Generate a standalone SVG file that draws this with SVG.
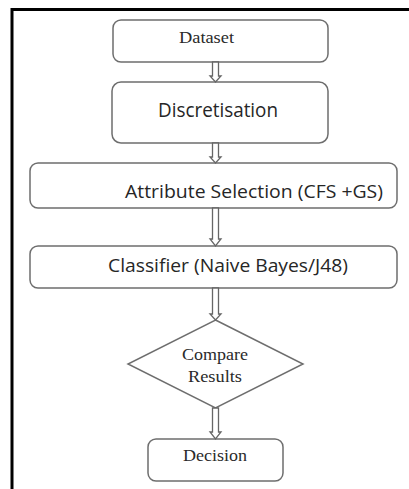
<svg xmlns="http://www.w3.org/2000/svg" width="409" height="489" viewBox="0 0 409 489">
<style>
.box{fill:#fff;stroke:#6e6e6e;stroke-width:1.5}
.arr{fill:#fff;stroke:#666;stroke-width:1.3;stroke-linejoin:miter}
.serif{font-family:"Liberation Serif","Times New Roman",serif;fill:#2a2a2a;font-size:16px}
.sans{font-family:"Open Sans","Liberation Sans",Arial,sans-serif;fill:#262626}
</style>
<rect width="409" height="489" fill="#fff"/>
<path d="M12 489 V9.5 H409" fill="none" stroke="#000" stroke-width="3"/>
<g id="dataset">
<rect class="box" x="113" y="20" width="215" height="42" rx="8"/>
<text class="serif" x="206.5" y="42.5" text-anchor="middle" textLength="55" lengthAdjust="spacingAndGlyphs">Dataset</text>
</g>
<g id="discretisation">
<rect class="box" x="112" y="82" width="216" height="61" rx="9"/>
<text class="sans" x="218" y="117" font-size="20" text-anchor="middle" textLength="120" lengthAdjust="spacingAndGlyphs">Discretisation</text>
</g>
<g id="attribute">
<rect class="box" x="30" y="163" width="367" height="45" rx="8"/>
<text class="sans" x="254" y="198" font-size="17.5" text-anchor="middle" textLength="258" lengthAdjust="spacingAndGlyphs">Attribute Selection (CFS +GS)</text>
</g>
<g id="classifier">
<rect class="box" x="30" y="246" width="367" height="42" rx="8"/>
<text class="sans" x="228" y="272" font-size="17.5" text-anchor="middle" textLength="240" lengthAdjust="spacingAndGlyphs">Classifier (Naive Bayes/J48)</text>
</g>
<g id="compare">
<polygon class="box" points="215.5,320 303,364 215.5,408 128,364"/>
<text class="serif" x="215" y="360" text-anchor="middle" textLength="66" lengthAdjust="spacingAndGlyphs">Compare</text>
<text class="serif" x="215" y="382" text-anchor="middle" textLength="54" lengthAdjust="spacingAndGlyphs">Results</text>
</g>
<g id="decision">
<rect class="box" x="148" y="439" width="135" height="42" rx="8"/>
<text class="serif" x="215" y="461" text-anchor="middle" textLength="64" lengthAdjust="spacingAndGlyphs">Decision</text>
</g>
<g id="connectors">
<path class="arr" d="M212.5 62 V76 H210 L215.5 82 L221 76 H218.5 V62 Z"/>
<path class="arr" d="M212.5 143 V157 H210 L215.5 163 L221 157 H218.5 V143 Z"/>
<path class="arr" d="M212.5 208 V239 H210 L215.5 246 L221 239 H218.5 V208 Z"/>
<path class="arr" d="M212.5 288 V314 H210 L215.5 320 L221 314 H218.5 V288 Z"/>
<path class="arr" d="M212.5 408 V432 H210 L215.5 439 L221 432 H218.5 V408 Z"/>
</g>
</svg>
